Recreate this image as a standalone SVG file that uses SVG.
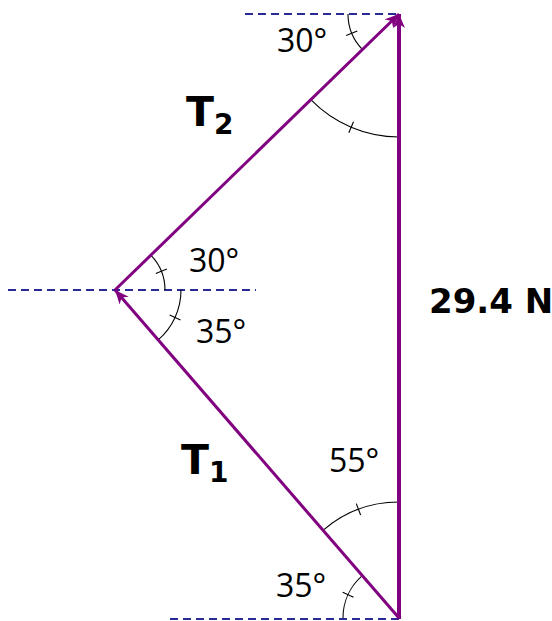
<svg xmlns="http://www.w3.org/2000/svg" width="552" height="621" viewBox="0 0 552 621">
<style>
.ref{stroke:#2a2a96;stroke-width:1.8;stroke-dasharray:8 5;fill:none}
.vec{stroke:#800080;fill:none}
.arc{stroke:#000;stroke-width:1.1;fill:none}
.lbl{font-family:"Open Sans","Noto Sans",sans-serif;font-size:32px;fill:#000}
.bold{font-family:"DejaVu Sans",sans-serif;font-weight:bold;fill:#000}
</style>
<defs>
<marker id="ah" markerUnits="userSpaceOnUse" markerWidth="16" markerHeight="14" refX="14" refY="6" orient="auto">
<path d="M0,0 L14,6 L0,12 L4,6 z" fill="#800080"/>
</marker>
</defs>
<rect width="552" height="621" fill="#fff"/>
<g id="reference-lines">
<line class="ref" x1="245" y1="14" x2="399" y2="14"/>
<line class="ref" x1="8" y1="290" x2="256" y2="290"/>
<line class="ref" x1="170" y1="619" x2="399" y2="619"/>
</g>
<g id="angle-marks">
<path class="arc" d="M348,14 A51,51 0 0 0 362.4,49.5"/>
<line class="arc" x1="357.3" y1="30.9" x2="346.2" y2="35.5"/>
<path class="arc" d="M310.8,99.7 A123,123 0 0 0 399,137"/>
<line class="arc" x1="353.5" y1="121.8" x2="348.8" y2="132.8"/>
<path class="arc" d="M150.8,255.1 A50,50 0 0 1 165,290"/>
<line class="arc" x1="155.8" y1="273.5" x2="166.9" y2="269"/>
<path class="arc" d="M181,290 A66,66 0 0 1 158.2,339.9"/>
<line class="arc" x1="169.6" y1="315" x2="180.5" y2="320"/>
<path class="arc" d="M399,502 A116,116 0 0 0 323,530.3"/>
<line class="arc" x1="360.6" y1="515" x2="356.3" y2="503.6"/>
<path class="arc" d="M362.3,575.7 A56,56 0 0 0 343,618"/>
<line class="arc" x1="353.5" y1="597.2" x2="342.7" y2="592.2"/>
</g>
<g id="vectors">
<line id="weight" class="vec" stroke-width="4" x1="399" y1="619" x2="399" y2="14" marker-end="url(#ah)"/>
<line id="T2" class="vec" stroke-width="3" x1="115" y1="290" x2="399" y2="14" marker-end="url(#ah)"/>
<line id="T1" class="vec" stroke-width="3" x1="399" y1="618" x2="115" y2="290" marker-end="url(#ah)"/>
</g>
<g id="labels">
<text class="lbl" x="277" y="52">30°</text>
<text class="lbl" x="189" y="272">30°</text>
<text class="lbl" x="196" y="343">35°</text>
<text class="lbl" x="329" y="472">55°</text>
<text class="lbl" x="276" y="597">35°</text>
<text class="bold" font-size="34" x="429" y="313">29.4 N</text>
<text class="bold" font-size="41" x="186" y="126">T<tspan font-size="28" dy="8">2</tspan></text>
<text class="bold" font-size="41" x="181" y="474">T<tspan font-size="28" dy="8">1</tspan></text>
</g>
</svg>
